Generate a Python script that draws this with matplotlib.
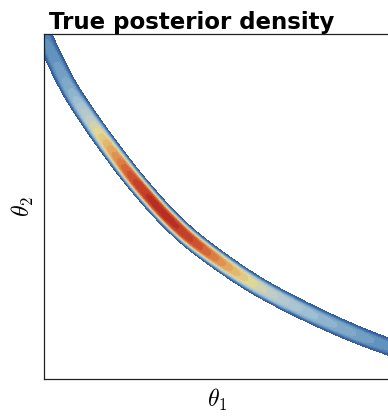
import numpy as np
import matplotlib
matplotlib.use("Agg")
import matplotlib.pyplot as plt
from matplotlib.colors import LinearSegmentedColormap

plt.rcParams["mathtext.fontset"] = "cm"

# Ridge of the posterior (centre line of the banana-shaped band), in axis units
ridge_t1 = [-0.060, -0.003, 0.065, 0.127, 0.198, 0.270, 0.360, 0.453, 0.599, 0.744, 0.890, 0.997, 1.080]
ridge_t2 = [1.140, 1.000, 0.858, 0.759, 0.659, 0.566, 0.465, 0.382, 0.280, 0.201, 0.134, 0.093, 0.066]
# Relative density along the ridge
ridge_density = [0.16, 0.19, 0.30, 0.50, 0.74, 0.93, 0.97, 0.88, 0.60, 0.41, 0.29, 0.21, 0.19]

title = "True posterior density"
band_scale = 0.020
band_power = 4

density_colors = ["#2d5293", "#3a65a4", "#5b8dbb", "#7fa9c8", "#a2c1d2", "#bccbcc",
                  "#e2d892", "#e4b26a", "#dc8247", "#cf4f2d", "#b32620"]
cmap = LinearSegmentedColormap.from_list("posterior", density_colors)


def catmull_rom(px, py, pv, n=60):
    P = np.column_stack([px, py, pv])
    P = np.vstack([2 * P[0] - P[1], P, 2 * P[-1] - P[-2]])
    out = []
    t = np.linspace(0, 1, n, endpoint=False)[:, None]
    for i in range(1, len(P) - 2):
        p0, p1, p2, p3 = P[i - 1], P[i], P[i + 1], P[i + 2]
        seg = 0.5 * ((2 * p1) + (-p0 + p2) * t + (2 * p0 - 5 * p1 + 4 * p2 - p3) * t ** 2
                     + (-p0 + 3 * p1 - 3 * p2 + p3) * t ** 3)
        out.append(seg)
    out.append(P[-2][None, :])
    return np.vstack(out)


curve = catmull_rom(ridge_t1, ridge_t2, ridge_density)

g = np.linspace(0, 1, 450)
X, Y = np.meshgrid(g, g)
best = np.full(X.shape, np.inf)
val = np.zeros(X.shape)
for cx, cy, cv in curve:
    d2 = (X - cx) ** 2 + (Y - cy) ** 2
    m = d2 < best
    best[m] = d2[m]
    val[m] = cv
dist = np.sqrt(best)
Z = val * np.exp(-np.abs(dist / band_scale) ** band_power)

fig = plt.figure(figsize=(3.88, 4.16), dpi=100)
ax = fig.add_axes([0.1134, 0.0889, 0.893, 0.8293])
levels = np.linspace(0.03, 1.0, 24)
ax.contourf(X, Y, Z, levels=levels, cmap=cmap, vmin=0.0, vmax=1.0, extend="max")
ax.set_xlim(0, 1)
ax.set_ylim(0, 1)
ax.set_xticks([])
ax.set_yticks([])
for s in ax.spines.values():
    s.set_color("#222222")
    s.set_linewidth(0.9)
ax.set_xlabel(r"$\theta_1$", fontsize=17, labelpad=6)
ax.set_ylabel(r"$\theta_2$", fontsize=17, labelpad=6)
ax.set_title(title, fontsize=16.5, fontweight="bold", loc="left", x=0.015, pad=2)

fig.savefig("out.png", dpi=100)
